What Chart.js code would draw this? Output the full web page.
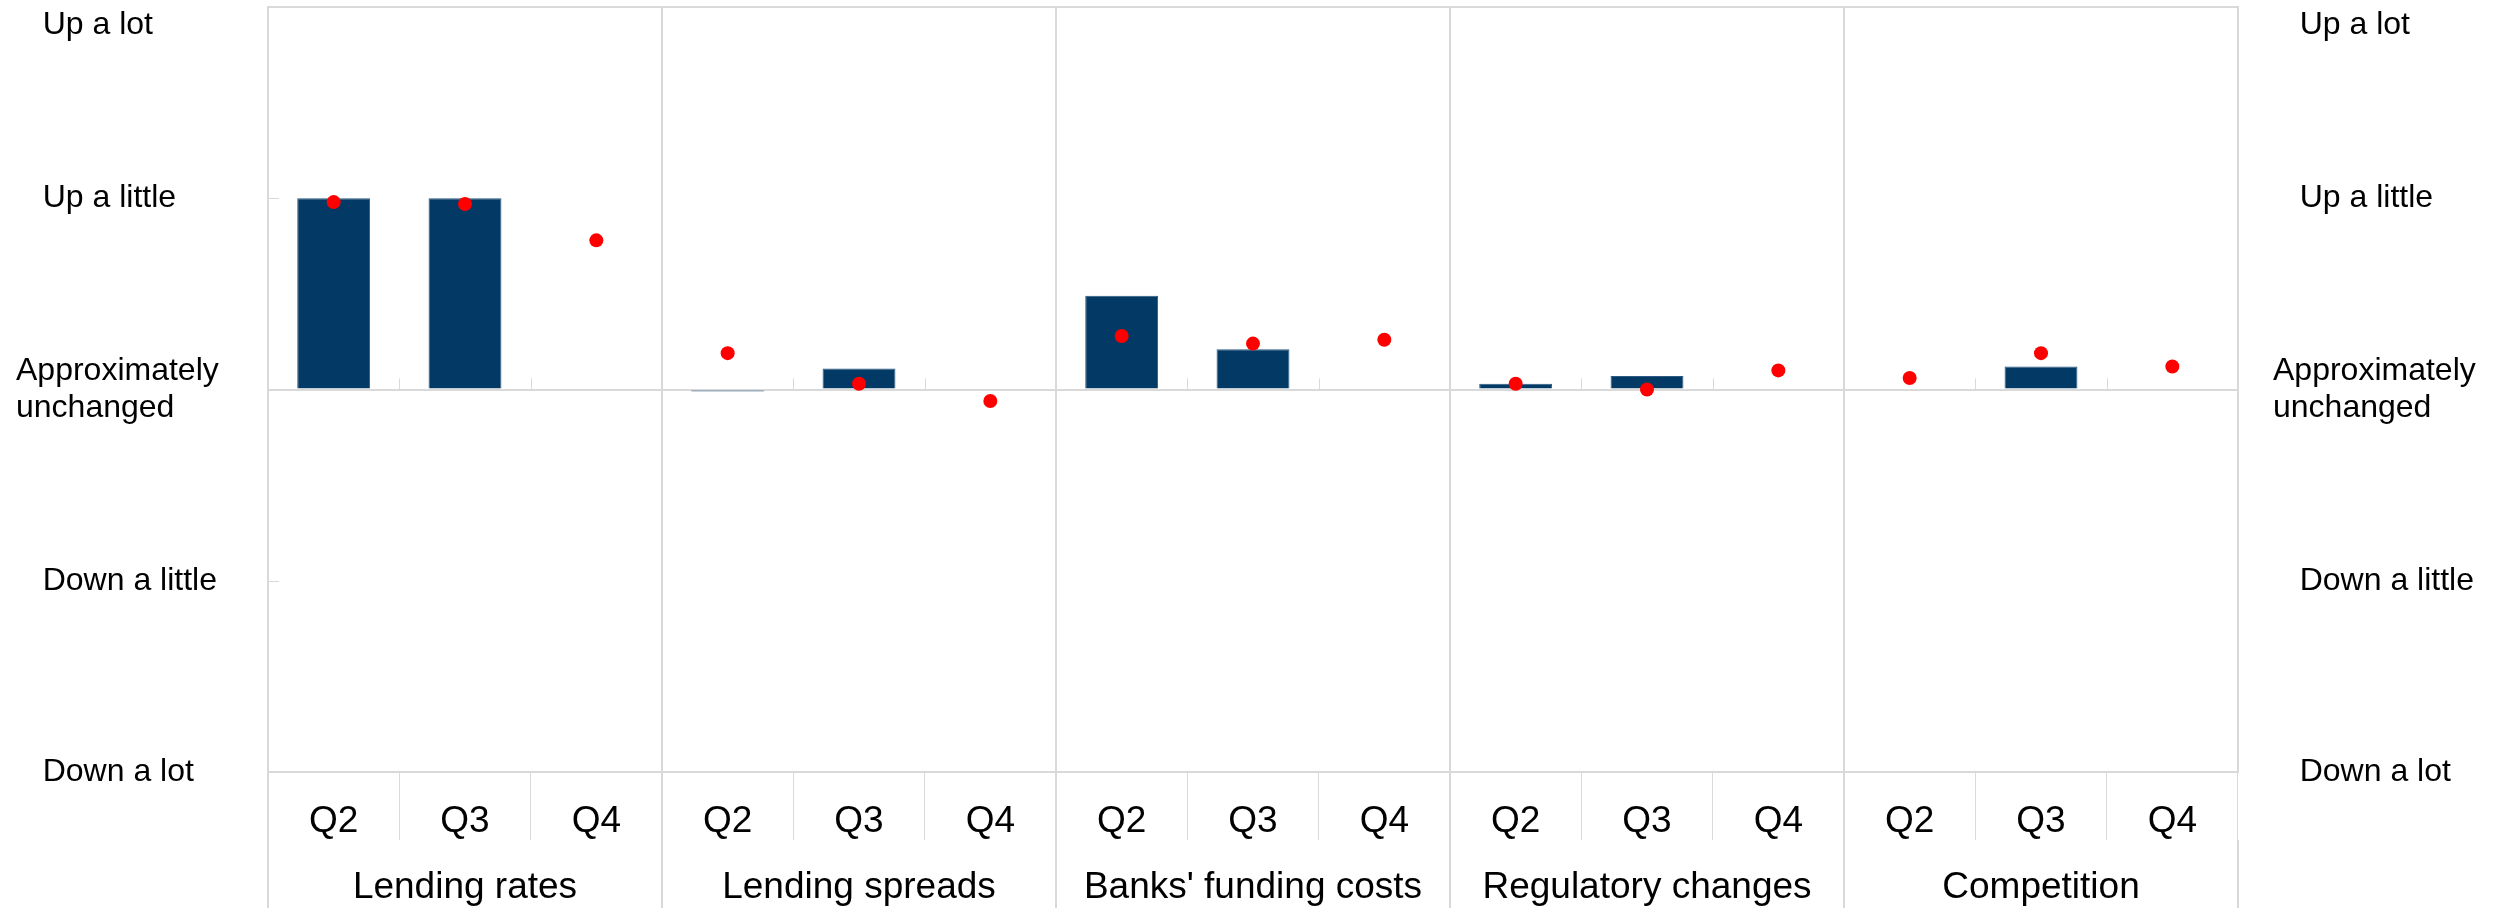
<!DOCTYPE html>
<html>
<head>
<meta charset="utf-8">
<script src="https://cdn.jsdelivr.net/npm/chart.js@4"></script>
<style>
  body { margin: 0; background: #fff; }
  #wrap { width: 2496px; height: 908px; }
</style>
</head>
<body>
<div id="wrap"><canvas id="surveyChart"></canvas></div>
<script>
// factors and survey quarters
var groups = ['Lending rates', 'Lending spreads', "Banks' funding costs", 'Regulatory changes', 'Competition'];
var quarters = ['Q2', 'Q3', 'Q4'];

// realised change (bars), one value per group x quarter; null = no bar
var realised = [1.0, 1.0, null, -0.01, 0.11, null, 0.49, 0.21, null, 0.03, 0.07, null, null, 0.12, null];
// expected change (red dots)
var expected = [0.98, 0.97, 0.78, 0.19, 0.03, -0.06, 0.28, 0.24, 0.26, 0.03, 0.0, 0.10, 0.06, 0.19, 0.12];

// y tick labels from -2 to 2 (leading spaces match the original's indent)
var yLabels = ['   Down a lot', '   Down a little', ['Approximately', 'unchanged'], '   Up a little', '   Up a lot'];

var labels = [];
groups.forEach(function () { quarters.forEach(function (q) { labels.push(q); }); });

Chart.defaults.font.family = '"Liberation Sans", Arial, sans-serif';
Chart.defaults.color = '#000';

var gridGrey = '#d9d9d9';

function yTick(value) {
    var lab = yLabels[value + 2];
    // push the top label below the frame like the original
    if (value === 2) return ['', lab];
    return lab;
}

// short marks: category ticks above the zero line, inward ticks on the left axis
var shortMarks = {
    id: 'shortMarks',
    beforeDatasetsDraw: function (chart) {
        var ctx = chart.ctx, area = chart.chartArea, x = chart.scales.x, y = chart.scales.y;
        var zero = y.getPixelForValue(0);
        ctx.save();
        ctx.strokeStyle = gridGrey;
        ctx.lineWidth = 1;
        ctx.beginPath();
        for (var i = 1; i < x.ticks.length; i++) {
            if (i % 3 === 0) continue;
            var px = Math.round((x.getPixelForTick(i) + x.getPixelForTick(i - 1)) / 2) + 0.5;
            ctx.moveTo(px, zero - 11);
            ctx.lineTo(px, zero);
        }
        y.ticks.forEach(function (t) {
            var py = Math.round(y.getPixelForValue(t.value)) + 0.5;
            ctx.moveTo(area.left, py);
            ctx.lineTo(area.left + 11, py);
        });
        ctx.stroke();
        ctx.restore();
    }
};

var ctx = document.getElementById('surveyChart');
var surveyChart = new Chart(ctx, {
    type: 'bar',
    data: {
        labels: labels,
        datasets: [{
            type: 'line',
            label: 'Expected',
            data: expected,
            showLine: false,
            pointRadius: 7,
            pointHoverRadius: 7,
            pointBackgroundColor: '#ff0000',
            pointBorderWidth: 0,
            order: 1
        }, {
            type: 'bar',
            label: 'Realised',
            data: realised,
            backgroundColor: '#033a65',
            borderColor: '#2c5a80',
            borderWidth: 1,
            barPercentage: 0.555,
            categoryPercentage: 1,
            order: 2
        }]
    },
    options: {
        responsive: true,
        maintainAspectRatio: false,
        animation: false,
        layout: { padding: { top: 7, left: 16, right: 0, bottom: 0 } },
        plugins: {
            legend: { display: false },
            tooltip: { enabled: false }
        },
        scales: {
            x: {
                type: 'category',
                position: 'bottom',
                weight: 0,
                offset: true,
                grid: {
                    offset: true,
                    drawOnChartArea: true,
                    color: function (c) { return c.index % 3 === 0 ? gridGrey : 'rgba(0,0,0,0)'; },
                    tickColor: gridGrey,
                    lineWidth: function (c) { return c.index % 3 === 0 ? 2 : 1; },
                    tickLength: 68
                },
                border: { display: true, color: gridGrey, width: 2 },
                ticks: { font: { size: 37 }, padding: -40, maxRotation: 0, autoSkip: false },
                afterFit: function (s) { s.height = 68; }
            },
            x2: {
                type: 'category',
                labels: groups,
                position: 'bottom',
                weight: 1,
                offset: true,
                grid: {
                    offset: true,
                    drawOnChartArea: false,
                    color: gridGrey,
                    lineWidth: 2,
                    tickLength: 68
                },
                border: { display: false },
                ticks: { font: { size: 37 }, padding: -42, maxRotation: 0, autoSkip: false },
                afterFit: function (s) { s.height = 68; }
            },
            y: {
                position: 'left',
                min: -2,
                max: 2,
                ticks: {
                    stepSize: 1,
                    crossAlign: 'far',
                    font: { size: 32, lineHeight: 1.15 },
                    callback: yTick
                },
                grid: {
                    drawTicks: false,
                    color: function (c) { return (c.tick.value === 0 || c.tick.value === 2) ? gridGrey : 'rgba(0,0,0,0)'; },
                    lineWidth: 2
                },
                border: { display: true, color: gridGrey, width: 2 },
                afterFit: function (s) { s.width = 252; s.paddingTop = 0; s.paddingBottom = 0; }
            },
            y2: {
                position: 'right',
                min: -2,
                max: 2,
                ticks: {
                    stepSize: 1,
                    crossAlign: 'near',
                    padding: 35,
                    font: { size: 32, lineHeight: 1.15 },
                    callback: yTick
                },
                grid: { drawTicks: false, drawOnChartArea: false },
                border: { display: true, color: gridGrey, width: 2 },
                afterFit: function (s) { s.width = 258; s.paddingTop = 0; s.paddingBottom = 0; }
            }
        }
    },
    plugins: [shortMarks]
});
</script>
</body>
</html>
